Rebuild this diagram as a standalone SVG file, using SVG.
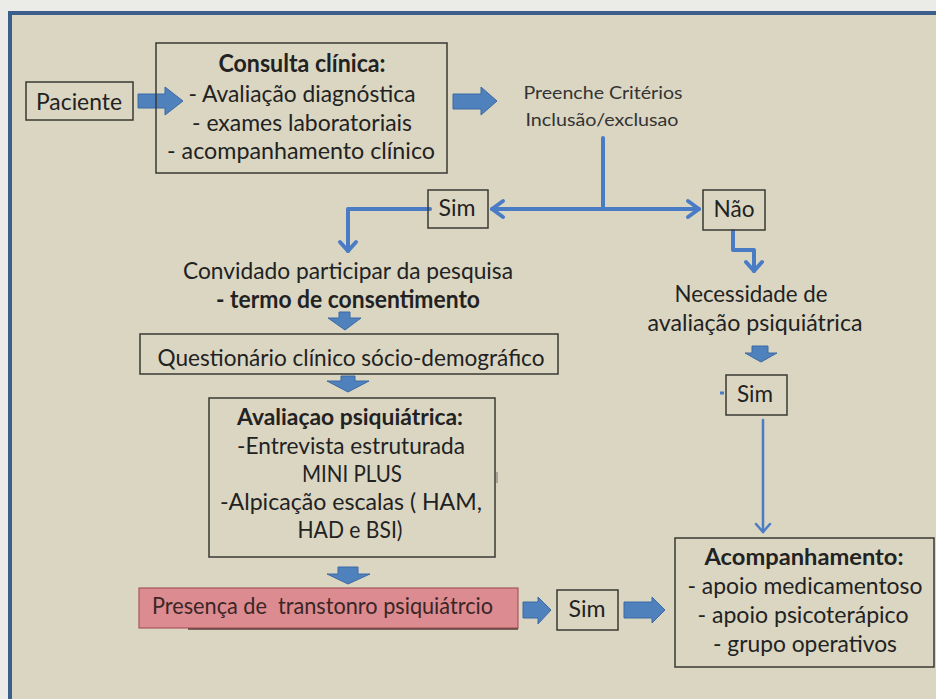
<svg xmlns="http://www.w3.org/2000/svg" width="936" height="699" viewBox="0 0 936 699">
  <defs>
    <style>
      .box { fill: none; stroke: #3a3a34; stroke-width: 1.5; }
      .t { font-family: Lato, "Open Sans", "Liberation Sans", sans-serif; fill: #222; text-anchor: middle; }
      .b { font-weight: bold; }
      .big { font-size: 24px; }
      .mid { font-size: 22.5px; }
      .sm { font-size: 18px; fill: #333; }
      .blk { fill: #4f81bd; stroke: #3d6aa3; stroke-width: 1; }
      .line { fill: none; stroke: #4a7cc6; stroke-width: 4; stroke-linejoin: round; stroke-linecap: round; }
      .thin { fill: none; stroke: #4a7cc6; stroke-width: 2.5; stroke-linejoin: round; stroke-linecap: round; }
    </style>
  </defs>

  <!-- page and slide frame -->
  <rect x="0" y="0" width="936" height="699" fill="#ebebe8"/>
  <rect x="10" y="13" width="940" height="700" fill="#dad6c2" stroke="#3b5e8c" stroke-width="4"/>

  <!-- connectors -->
  <g id="connectors">
    <!-- block arrows -->
    <polygon class="blk" points="138,94 165,94 165,87 183,101 165,115 165,108 138,108"/>
    <polygon class="blk" points="453,94 481,94 481,87 497,101 481,115 481,109 453,109"/>
    <polygon class="blk" points="339,312 350,312 350,318 361,318 345,330 328,318 339,318"/>
    <polygon class="blk" points="341,376 355,376 355,381 369,381 348,392 327,381 341,381"/>
    <polygon class="blk" points="338,567 358,567 358,574 370,574 348,584 327,574 338,574"/>
    <polygon class="blk" points="752,346 768,346 768,353 777,353 761,362 745,353 752,353"/>
    <polygon class="blk" points="523,602 538,602 538,597 551,610 538,624 538,618 523,618"/>
    <polygon class="blk" points="624,602 652,602 652,597 665,610 652,623 652,618 624,618"/>

    <!-- decision lines -->
    <line class="line" x1="603" y1="138" x2="603" y2="209"/>
    <line class="line" x1="492" y1="209" x2="699" y2="209"/>
    <polyline class="line" points="503,201 492,209 503,217"/>
    <polyline class="line" points="688,201 699,209 688,217"/>
    <polyline class="line" points="430,209 348,209 348,251"/>
    <polyline class="line" points="340,242 348,251 356,242"/>
    <polyline class="line" points="733,231 733,250 754,250 754,271"/>
    <polyline class="line" points="746,262 754,271 762,262"/>
    <line class="thin" x1="763" y1="420" x2="763" y2="532"/>
    <polyline class="thin" points="756,524 763,532 770,524"/>
    <!-- small stray marks -->
    <line x1="720" y1="393" x2="724" y2="393" stroke="#4a7cc6" stroke-width="3"/>
    <line x1="497" y1="472" x2="497" y2="483" stroke="#77776f" stroke-width="1"/>
  </g>

  <g id="paciente">
    <rect class="box" x="26" y="82" width="107" height="38"/>
    <text class="t big" x="79" y="110" textLength="86" lengthAdjust="spacingAndGlyphs">Paciente</text>
  </g>

  <g id="consulta">
    <rect class="box" x="156" y="43" width="291" height="130"/>
    <text class="t big b" x="302" y="72" textLength="167" lengthAdjust="spacingAndGlyphs">Consulta clínica:</text>
    <text class="t big" x="302" y="102" textLength="227" lengthAdjust="spacingAndGlyphs">- Avaliação diagnóstica</text>
    <text class="t big" x="302" y="131" textLength="220" lengthAdjust="spacingAndGlyphs">- exames laboratoriais</text>
    <text class="t big" x="301" y="159" textLength="268" lengthAdjust="spacingAndGlyphs">- acompanhamento clínico</text>
  </g>

  <g id="criterios">
    <text class="t sm" x="603" y="99" textLength="159" lengthAdjust="spacingAndGlyphs">Preenche Critérios</text>
    <text class="t sm" x="602" y="126" textLength="153" lengthAdjust="spacingAndGlyphs">Inclusão/exclusao</text>
  </g>

  <g id="sim-1">
    <rect class="box" x="428" y="190" width="60" height="38"/>
    <text class="t mid" x="457" y="216" textLength="37" lengthAdjust="spacingAndGlyphs">Sim</text>
  </g>

  <g id="nao">
    <rect class="box" x="703" y="190" width="62" height="40"/>
    <text class="t mid" x="734" y="217" textLength="41" lengthAdjust="spacingAndGlyphs">Não</text>
  </g>

  <g id="convidado">
    <text class="t big" x="348" y="279" textLength="330" lengthAdjust="spacingAndGlyphs">Convidado participar da pesquisa</text>
    <text class="t big b" x="348" y="308" textLength="264" lengthAdjust="spacingAndGlyphs">- termo de consentimento</text>
  </g>

  <g id="questionario">
    <rect class="box" x="140" y="334" width="418" height="40"/>
    <text class="t big" x="351" y="366" textLength="387" lengthAdjust="spacingAndGlyphs">Questionário clínico sócio-demográfico</text>
  </g>

  <g id="avaliacao">
    <rect class="box" x="209" y="398" width="286" height="159"/>
    <text class="t mid b" x="350" y="425" textLength="226" lengthAdjust="spacingAndGlyphs">Avaliaçao psiquiátrica:</text>
    <text class="t mid" x="351" y="454" textLength="228" lengthAdjust="spacingAndGlyphs">-Entrevista estruturada</text>
    <text class="t mid" x="352" y="482" textLength="100" lengthAdjust="spacingAndGlyphs">MINI PLUS</text>
    <text class="t mid" x="351" y="510" textLength="262" lengthAdjust="spacingAndGlyphs">-Alpicação escalas ( HAM,</text>
    <text class="t mid" x="350" y="538" textLength="105" lengthAdjust="spacingAndGlyphs">HAD e BSI)</text>
  </g>

  <g id="presenca">
    <rect x="139" y="588" width="379" height="40" fill="#dc8b90" stroke="#a9555a" stroke-width="1.2"/>
    <line x1="188" y1="629" x2="518" y2="629" stroke="#5a3a38" stroke-width="1.5"/>
    <text class="t mid" x="152" y="614" style="text-anchor:start;fill:#3a2626" textLength="341" lengthAdjust="spacingAndGlyphs" xml:space="preserve">Presença de  transtonro psiquiátrcio</text>
  </g>

  <g id="sim-3">
    <rect class="box" x="557" y="590" width="61" height="40"/>
    <text class="t mid" x="587" y="617" textLength="37" lengthAdjust="spacingAndGlyphs">Sim</text>
  </g>

  <g id="necessidade">
    <text class="t mid" x="751" y="302" textLength="153" lengthAdjust="spacingAndGlyphs">Necessidade de</text>
    <text class="t mid" x="755" y="331" textLength="215" lengthAdjust="spacingAndGlyphs">avaliação psiquiátrica</text>
  </g>

  <g id="sim-2">
    <rect class="box" x="726" y="375" width="61" height="40"/>
    <text class="t mid" x="755" y="402" textLength="36" lengthAdjust="spacingAndGlyphs">Sim</text>
  </g>

  <g id="acompanhamento">
    <rect class="box" x="675" y="538" width="259" height="129"/>
    <text class="t mid b" x="804" y="565" textLength="199" lengthAdjust="spacingAndGlyphs">Acompanhamento:</text>
    <text class="t mid" x="805" y="594" textLength="235" lengthAdjust="spacingAndGlyphs">- apoio medicamentoso</text>
    <text class="t mid" x="803" y="623" textLength="211" lengthAdjust="spacingAndGlyphs">- apoio psicoterápico</text>
    <text class="t mid" x="805" y="652" textLength="184" lengthAdjust="spacingAndGlyphs">- grupo operativos</text>
  </g>
</svg>
